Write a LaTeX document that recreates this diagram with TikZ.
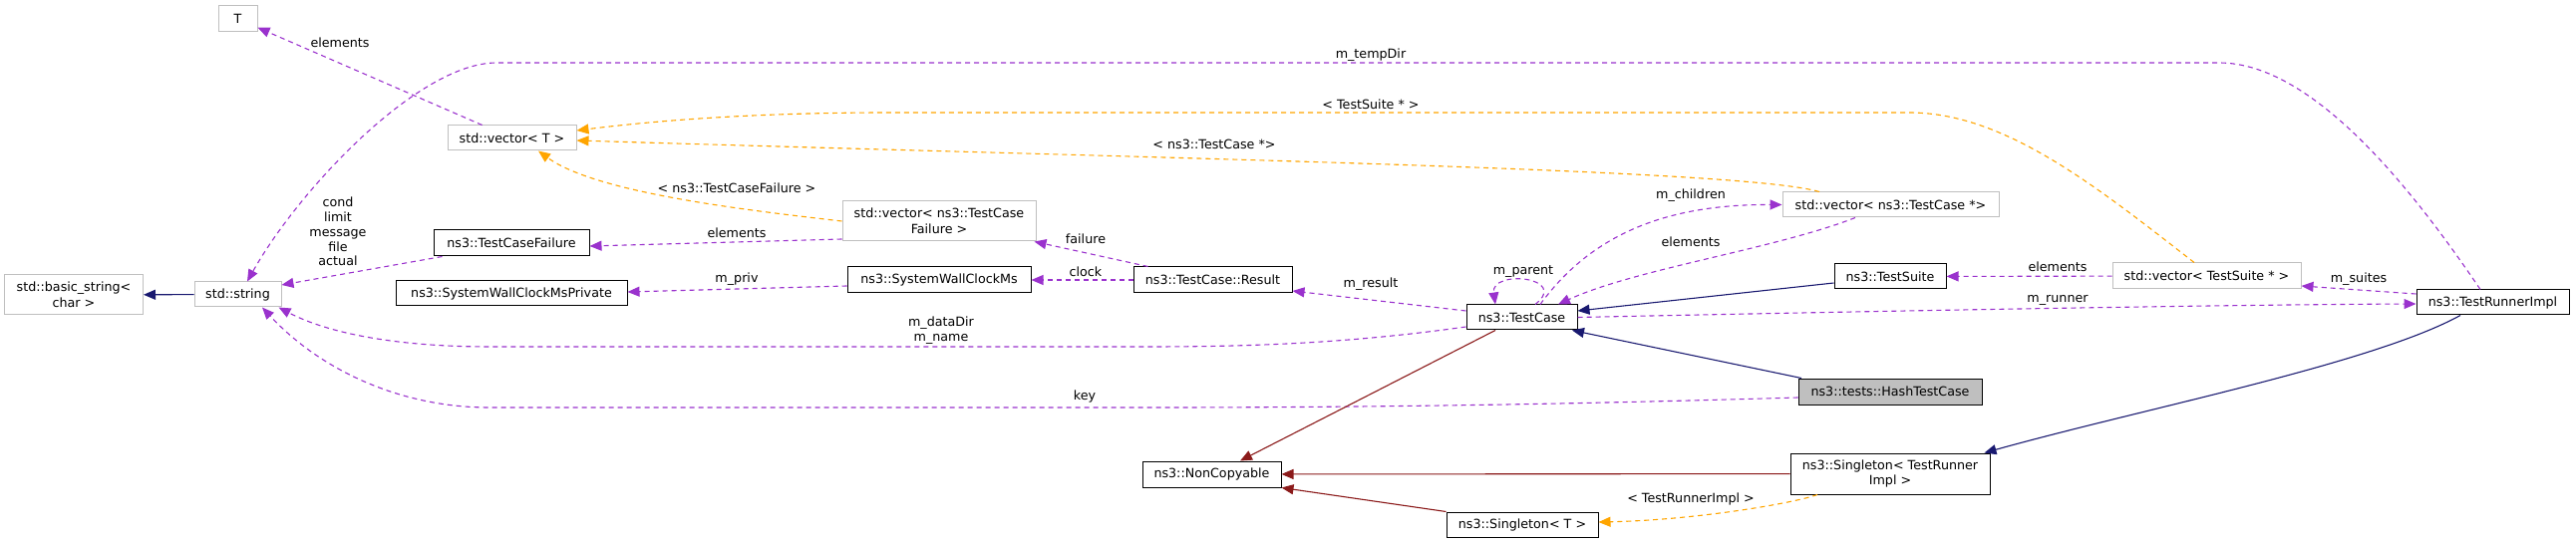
\documentclass[tikz,border=0pt]{standalone}
\usepackage{fontspec}
\setmainfont{DejaVu Sans}
\usetikzlibrary{arrows.meta}
\definecolor{memcol}{HTML}{9A32CD}
\definecolor{tplcol}{HTML}{FFA500}
\definecolor{pubcol}{HTML}{191970}
\definecolor{prvcol}{HTML}{8B1A1A}
\definecolor{extcol}{HTML}{BFBFBF}
\newcommand{\dxfont}{\fontsize{12.7}{15.5}\selectfont}
\begin{document}
\begin{tikzpicture}[x=1pt, y=-1pt,
        cls/.style={draw=black, fill=white, line width=1pt, inner sep=0pt, minimum height=25pt, align=center, font=\dxfont},
        ext/.style={cls, draw=extcol},
        lbl/.style={inner sep=0pt, align=center, font=\dxfont},
        dxtip/.style={-{Triangle[length=12pt, width=10pt]}},
        mem/.style={draw=memcol, dxtip, line width=1.1pt, dash pattern=on 5pt off 4pt},
        tpl/.style={draw=tplcol, dxtip, line width=1.1pt, dash pattern=on 5pt off 4pt},
        pub/.style={draw=pubcol, dxtip, line width=1.1pt},
        prv/.style={draw=prvcol, dxtip, line width=1.1pt}]
        \useasboundingbox (0,0) rectangle (2584,545);

        % classes, left to right
        \node[ext, minimum width=139pt, minimum height=40pt] (bstr) at (74,296) {std::basic\_string<\\char >};
        \node[ext, minimum width=39pt, minimum height=26pt] (T) at (238.5,19) {T};
        \node[ext, minimum width=87pt] (str) at (238.5,295.5) {std::string};
        \node[ext, minimum width=129pt] (vecT) at (513.5,138.5) {std::vector< T >};
        \node[cls, minimum width=156pt, minimum height=26pt] (tcf) at (513,244) {ns3::TestCaseFailure};
        \node[cls, minimum width=232pt] (swcp) at (513,294.5) {ns3::SystemWallClockMsPrivate};
        \node[ext, minimum width=194pt, minimum height=40pt] (vecF) at (942,222) {std::vector< ns3::TestCase\\Failure >};
        \node[cls, minimum width=184pt, minimum height=26pt] (swc) at (942,281) {ns3::SystemWallClockMs};
        \node[cls, minimum width=159pt, minimum height=26pt] (res) at (1216.5,281) {ns3::TestCase::Result};
        \node[cls, minimum width=139pt, minimum height=26pt] (nonc) at (1215.5,476) {ns3::NonCopyable};
        \node[cls, minimum width=111pt] (tc) at (1526.5,318.5) {ns3::TestCase};
        \node[cls, minimum width=152pt] (singT) at (1527,526.5) {ns3::Singleton< T >};
        \node[ext, minimum width=217pt] (vecTC) at (1896.5,205.5) {std::vector< ns3::TestCase *>};
        \node[cls, minimum width=112pt] (suite) at (1896,277.5) {ns3::TestSuite};
        \node[cls, fill=extcol, minimum width=184pt, minimum height=26pt] (hash) at (1896,393) {ns3::tests::HashTestCase};
        \node[cls, minimum width=200pt, minimum height=41pt] (singR) at (1896,475.5) {ns3::Singleton< TestRunner\\Impl >};
        \node[ext, minimum width=189pt, minimum height=26pt] (vecS) at (2213.5,277) {std::vector< TestSuite * >};
        \node[cls, minimum width=153pt] (runner) at (2500.5,303.5) {ns3::TestRunnerImpl};

        % members
        \draw[mem] (vecT) -- (T);
        \draw[mem] ([xshift=-12.5pt]runner.north) .. controls (2420,190) and (2320,63) .. (2226,63) -- (498,63) .. controls (420,63) and (300,190) .. ([xshift=9.5pt]str.north);
        \draw[mem] ([xshift=9pt]tcf.south west) -- ([yshift=9.5pt]str.east);
        \draw[mem] ([yshift=-18pt]vecF.west) -- ([yshift=-3pt]tcf.east);
        \draw[mem] ([yshift=-6pt]swc.west) -- ([yshift=1.5pt]swcp.east);
        \draw[mem] ([xshift=-65pt]res.north) -- ([xshift=-2pt]vecF.south east);
        \draw[mem] (res) -- (swc);
        \draw[mem] ([yshift=6.5pt]tc.west) -- ([yshift=-11pt]res.east);
        \draw[mem] ([yshift=-9.5pt]tc.west) .. controls (1350,345) and (1250,348) .. (1150,348) -- (491,348) .. controls (400,348) and (330,335) .. ([xshift=-3pt]str.south east);
        \draw[mem] ([yshift=-6pt]hash.west) .. controls (1600,405) and (1400,409) .. (1157,409) -- (491,409) .. controls (400,409) and (320,370) .. ([xshift=24.5pt]str.south);
        \draw[mem] ([xshift=13.5pt]tc.north) .. controls (1575,278) and (1495,270) .. ([xshift=-26.5pt]tc.north);
        \draw[mem] ([xshift=18.5pt]tc.north) .. controls (1600,230) and (1680,205) .. (vecTC.west);
        \draw[mem] ([xshift=-35.5pt]vecTC.south) .. controls (1780,250) and (1640,270) .. ([xshift=36.5pt]tc.north);
        \draw[mem] (vecS) -- (suite);
        \draw[mem] ([yshift=8.5pt]runner.west) -- ([yshift=-10pt]vecS.east);
        \draw[mem] (tc.east) .. controls (1800,314) and (2200,306) .. ([yshift=-1.5pt]runner.west);

        % template instances
        \draw[tpl] ([xshift=-12.5pt]vecS.north) .. controls (2100,185) and (2010,113) .. (1915,113) -- (891,113) .. controls (750,113) and (650,122) .. ([yshift=7.5pt]vecT.east);
        \draw[tpl] ([xshift=-71.5pt]vecTC.north) .. controls (1750,170) and (1200,160) .. ([yshift=-2.5pt]vecT.east);
        \draw[tpl] (vecF.west) .. controls (760,212) and (600,195) .. ([xshift=26.5pt]vecT.south);
        \draw[tpl] ([xshift=-73pt]singR.south) .. controls (1800,505) and (1700,522) .. ([yshift=2.5pt]singT.east);

        % inheritance
        \draw[pub] (str) -- (bstr);
        \draw[pub] ([yshift=-6.5pt]suite.west) -- ([yshift=6.5pt]tc.east);
        \draw[pub] ([xshift=-89pt]hash.north) -- ([xshift=50.5pt]tc.south);
        \draw[pub] ([xshift=-32.5pt]runner.south) .. controls (2380,365) and (2150,410) .. ([xshift=-6pt]singR.north east);
        \draw[prv] ([xshift=-26.5pt]tc.south) -- ([xshift=28.5pt]nonc.north);
        \draw[prv] (singR) -- (nonc);
        \draw[prv] (singT.north west) -- (nonc.south east);

        % edge labels
        \node[lbl] (lbElemT) at (341,43) {elements};
        \node[lbl] (lbTempDir) at (1375,55) {m\_tempDir};
        \node[lbl] (lbSuiteT) at (1375,105) {< TestSuite * >};
        \node[lbl] (lbCaseT) at (1218,145) {< ns3::TestCase *>};
        \node[lbl] (lbFailT) at (739,189) {< ns3::TestCaseFailure >};
        \node[lbl, font=\fontsize{12.7}{14.8}\selectfont] (lbFields) at (339,232.5) {cond\\limit\\message\\file\\actual};
        \node[lbl] (lbElemF) at (739,234) {elements};
        \node[lbl] (lbPriv) at (739,280) {m\_priv};
        \node[lbl] (lbFailure) at (1089,240) {failure};
        \node[lbl] (lbClock) at (1089,273) {clock};
        \node[lbl] (lbDir) at (944,331.5) {m\_dataDir\\m\_name};
        \node[lbl] (lbKey) at (1088,398) {key};
        \node[lbl] (lbResult) at (1375,285) {m\_result};
        \node[lbl] (lbParent) at (1528,273) {m\_parent};
        \node[lbl] (lbChildren) at (1696,196) {m\_children};
        \node[lbl] (lbElemC) at (1696,243) {elements};
        \node[lbl] (lbElemS) at (2064,268) {elements};
        \node[lbl] (lbRunner) at (2064,301) {m\_runner};
        \node[lbl] (lbSuites) at (2366,280) {m\_suites};
        \node[lbl] (lbRunnerT) at (1696,501) {< TestRunnerImpl >};
\end{tikzpicture}
\end{document}
